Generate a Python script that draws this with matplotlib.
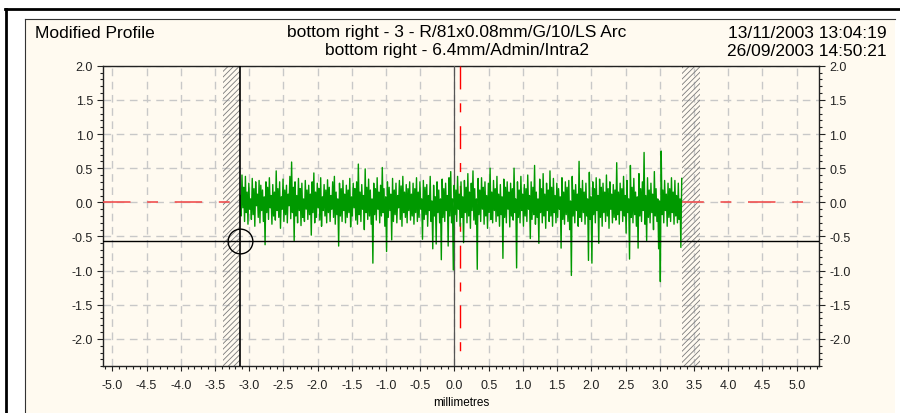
import numpy as np
import matplotlib
matplotlib.use("Agg")
import matplotlib.pyplot as plt
from matplotlib.patches import Rectangle
from matplotlib.lines import Line2D
from matplotlib.ticker import MultipleLocator, FormatStrFormatter

plt.rcParams['font.family'] = ['Liberation Sans', 'DejaVu Sans']
plt.rcParams['axes.unicode_minus'] = False
plt.rcParams['hatch.linewidth'] = 0.6

# header texts
chart_name = "Modified Profile"
title_lines = ["bottom right - 3 - R/81x0.08mm/G/10/LS Arc",
               "bottom right - 6.4mm/Admin/Intra2"]
date_lines = ["13/11/2003 13:04:19", "26/09/2003 14:50:21"]
x_label = "millimetres"

# axis ranges (mm / profile units)
x_range = (-5.14, 5.33)
y_range = (-2.4, 2.0)

# cursor + excluded zones
cursor_x = -3.13
cursor_y = -0.57
centre_x = 0.08
left_zone = (-3.38, -3.13)
right_zone = (3.33, 3.59)

# profile trace: local highs every 0.025 mm from -3.13 mm,
# local lows half a step after each high
trace_start = -3.13
trace_step = 0.025
peaks = [
    0.10, 0.40, 0.22, 0.38, 0.15, 0.28, 0.05, 0.35, 0.20, 0.30, 0.12, 0.32, 0.25, 0.18, 0.08, 0.30, 0.22, 0.36, 0.10, 0.26,
    0.15, 0.46, 0.20, 0.30, 0.08, 0.34, 0.18, 0.25, 0.12, 0.38, 0.59, 0.22, 0.30, 0.10, 0.35, 0.20, 0.28, 0.05, 0.32, 0.18,
    0.25, 0.12, 0.30, 0.43, 0.15, 0.28, 0.20, 0.36, 0.08, 0.26, 0.18, 0.33, 0.22, 0.10, 0.30, 0.38, 0.15, 0.05, 0.28, 0.20,
    0.32, 0.12, 0.25, 0.18, 0.35, 0.08, 0.28, 0.20, 0.30, 0.56, 0.15, 0.26, 0.10, 0.49, 0.22, 0.34, 0.18, 0.05, 0.28, 0.20,
    0.36, 0.15, 0.25, 0.51, 0.20, 0.08, 0.30, 0.22, 0.12, 0.35, 0.18, 0.28, 0.10, 0.32, 0.24, 0.38, 0.15, 0.26, 0.20, 0.30,
    0.12, 0.28, 0.20, 0.36, 0.15, 0.30, 0.05, 0.32, 0.22, 0.26, 0.10, 0.38, 0.02, 0.25, 0.08, 0.30, 0.18, 0.05, 0.34, 0.20,
    0.28, 0.10, 0.36, 0.45, 0.05, 0.25, 0.18, 0.38, 0.12, 0.30, 0.08, 0.32, 0.22, 0.42, 0.15, 0.28, 0.46, 0.20, 0.05, 0.35,
    0.18, 0.36, 0.22, 0.30, 0.10, 0.28, 0.50, 0.15, 0.32, 0.20, 0.38, 0.12, 0.26, 0.08, 0.34, 0.22, 0.30, 0.15, 0.28, 0.20,
    0.50, 0.05, 0.30, 0.18, 0.38, 0.12, 0.26, 0.20, 0.40, 0.10, 0.30, 0.22, 0.54, 0.15, 0.05, 0.34, 0.20, 0.42, 0.12, 0.28,
    0.18, 0.46, 0.22, 0.35, 0.10, 0.28, 0.20, 0.08, 0.36, 0.15, 0.30, 0.22, 0.32, 0.02, 0.38, 0.18, 0.26, 0.12, 0.60, 0.20,
    0.32, 0.15, 0.28, 0.05, 0.44, 0.08, 0.30, 0.20, 0.36, 0.10, 0.34, 0.22, 0.28, 0.15, 0.40, 0.20, 0.30, 0.12, 0.26, 0.18,
    0.58, 0.15, 0.28, 0.20, 0.38, 0.10, 0.32, 0.05, 0.54, 0.22, 0.35, 0.15, 0.08, 0.42, 0.20, 0.30, 0.73, 0.10, 0.36, 0.18,
    0.28, 0.12, 0.45, 0.20, 0.05, 0.02, 0.75, 0.18, 0.32, 0.12, 0.28, 0.20, 0.36, 0.15, 0.32, 0.10, 0.28, 0.05, 0.35,
]
troughs = [
    -0.20, -0.08, -0.28, -0.15, -0.32, -0.10, -0.25, -0.18, -0.35, -0.05, -0.22, -0.30, -0.12, -0.28, -0.62, -0.15, -0.25, -0.08, -0.32, -0.20,
    -0.26, -0.12, -0.22, -0.38, -0.10, -0.28, -0.18, -0.30, -0.05, -0.24, -0.15, -0.56, -0.20, -0.30, -0.12, -0.34, -0.22, -0.28, -0.10, -0.25,
    -0.18, -0.48, -0.15, -0.30, -0.22, -0.08, -0.26, -0.35, -0.12, -0.20, -0.30, -0.15, -0.28, -0.10, -0.22, -0.32, -0.18, -0.64, -0.20, -0.28,
    -0.12, -0.30, -0.22, -0.15, -0.36, -0.20, -0.08, -0.26, -0.32, -0.18, -0.28, -0.10, -0.40, -0.15, -0.25, -0.20, -0.32, -0.89, -0.18, -0.26,
    -0.10, -0.30, -0.20, -0.15, -0.35, -0.72, -0.22, -0.12, -0.55, -0.28, -0.18, -0.30, -0.08, -0.25, -0.35, -0.15, -0.22, -0.30, -0.12, -0.26,
    -0.20, -0.32, -0.15, -0.28, -0.22, -0.10, -0.54, -0.25, -0.18, -0.35, -0.12, -0.28, -0.68, -0.20, -0.61, -0.15, -0.30, -0.84, -0.22, -0.28,
    -0.12, -0.64, -0.20, -0.30, -0.99, -0.18, -0.28, -0.10, -0.35, -0.22, -0.59, -0.15, -0.30, -0.20, -0.38, -0.12, -0.26, -0.32, -0.98, -0.18,
    -0.28, -0.10, -0.32, -0.20, -0.38, -0.15, -0.25, -0.30, -0.12, -0.28, -0.20, -0.35, -0.18, -0.82, -0.22, -0.30, -0.10, -0.36, -0.20, -0.26,
    -0.15, -0.96, -0.22, -0.30, -0.12, -0.35, -0.20, -0.28, -0.10, -0.53, -0.25, -0.18, -0.32, -0.22, -0.60, -0.15, -0.30, -0.20, -0.38, -0.12,
    -0.28, -0.20, -0.35, -0.15, -0.30, -0.22, -0.10, -0.67, -0.25, -0.32, -0.18, -0.28, -0.40, -1.07, -0.20, -0.30, -0.12, -0.35, -0.22, -0.28,
    -0.15, -0.32, -0.20, -0.85, -0.25, -0.89, -0.18, -0.30, -0.12, -0.60, -0.22, -0.35, -0.15, -0.28, -0.20, -0.38, -0.10, -0.30, -0.22, -0.26,
    -0.18, -0.32, -0.12, -0.28, -0.20, -0.45, -0.15, -0.83, -0.22, -0.30, -0.18, -0.35, -0.67, -0.20, -0.28, -0.12, -0.32, -0.56, -0.22, -0.30,
    -0.15, -0.40, -0.20, -0.28, -0.68, -1.16, -0.18, -0.30, -0.12, -0.35, -0.22, -0.28, -0.15, -0.32, -0.20, -0.30, -0.25, -0.66,
]

W, H = 900, 414
cream = '#fffaf0'


def fx(px):
    return px / W


def fy(py):
    return 1 - py / H


fig = plt.figure(figsize=(W / 100, H / 100), dpi=100, facecolor='white')

# panel background + frame
fig.patches.append(Rectangle((fx(25), 0), fx(895) - fx(25), fy(20), transform=fig.transFigure,
                             facecolor=cream, edgecolor='none', zorder=-10))
fig.lines.append(Line2D([fx(25), fx(895)], [fy(20), fy(20)], transform=fig.transFigure,
                        color='#333333', lw=0.8, zorder=-5))
fig.lines.append(Line2D([fx(25), fx(25)], [0, fy(20)], transform=fig.transFigure,
                        color='#333333', lw=0.8, zorder=-5))
fig.lines.append(Line2D([fx(5), 1], [fy(10), fy(10)], transform=fig.transFigure,
                        color='black', lw=2, zorder=-5))
fig.lines.append(Line2D([fx(6), fx(6)], [0, fy(10)], transform=fig.transFigure,
                        color='black', lw=2, zorder=-5))

# header
fig.text(fx(35), fy(33), chart_name, ha='left', va='center', fontsize=12.5)
fig.text(fx(457), fy(33), title_lines[0], ha='center', va='center', fontsize=12.5)
fig.text(fx(457), fy(51), title_lines[1], ha='center', va='center', fontsize=12.5)
fig.text(fx(887), fy(33), date_lines[0], ha='right', va='center', fontsize=12.5)
fig.text(fx(887), fy(51), date_lines[1], ha='right', va='center', fontsize=12.5)

ax = fig.add_axes([fx(102.7), fy(367.3), fx(819.3) - fx(102.7), fy(66.7) - fy(367.3)])
ax.set_facecolor(cream)
ax.set_xlim(*x_range)
ax.set_ylim(*y_range)

# dashed grid
ax.xaxis.set_major_locator(MultipleLocator(0.5))
ax.xaxis.set_minor_locator(MultipleLocator(0.1))
ax.yaxis.set_major_locator(MultipleLocator(0.5))
ax.yaxis.set_minor_locator(MultipleLocator(0.1))
ax.xaxis.set_major_formatter(FormatStrFormatter('%.1f'))
ax.yaxis.set_major_formatter(FormatStrFormatter('%.1f'))
ax.grid(True, which='major', color='#c8c8c8', lw=1.0, dashes=(5.5, 4))
ax.set_axisbelow(True)

ax.tick_params(axis='y', which='both', left=True, right=True, labelleft=True, labelright=True,
               direction='out', labelsize=9, pad=2.5, colors='#222222')
ax.tick_params(axis='y', which='major', length=4.5, width=0.8)
ax.tick_params(axis='y', which='minor', length=2.5, width=0.8)
ax.tick_params(axis='x', which='both', direction='out', labelsize=9, colors='#222222')
ax.tick_params(axis='x', which='major', length=3.5, width=0.8, pad=6)
ax.tick_params(axis='x', which='minor', length=2, width=0.8)
for s in ax.spines.values():
    s.set_color('#222222')
    s.set_linewidth(1.0)
ax.set_xlabel(x_label, fontsize=8.5, labelpad=3)

# excluded zones
for zone in (left_zone, right_zone):
    ax.axvspan(zone[0], zone[1], facecolor='none', edgecolor='#7a7a7a', hatch='//////', lw=0, zorder=2)

# reference lines
ax.axhline(0, color='#f05050', lw=1.2, dashes=(16.5, 10, 6.5, 10), zorder=3)
ax.axvline(0, color='#555555', lw=0.9, zorder=3)
ax.plot([centre_x, centre_x], [y_range[1], -2.3], color='#ff0000', lw=1.0,
        dashes=(16.5, 10, 6.5, 10), zorder=3)

# profile: highs and lows interleaved
n = len(peaks)
x_trace = trace_start + trace_step * np.arange(2 * n - 1) / 2
y_trace = np.empty(2 * n - 1)
y_trace[0::2] = peaks
y_trace[1::2] = troughs
ax.plot(x_trace, y_trace, color='#009900', lw=1.0, zorder=4)

# cursor
ax.axhline(cursor_y, color='black', lw=1.0, zorder=5)
ax.axvline(cursor_x, color='black', lw=1.2, zorder=5)
ax.plot([cursor_x], [cursor_y], marker='o', ms=17.8, mfc='none', mec='black', mew=1.0,
        zorder=6, clip_on=False)

fig.savefig('out.png', dpi=100, facecolor='white')
